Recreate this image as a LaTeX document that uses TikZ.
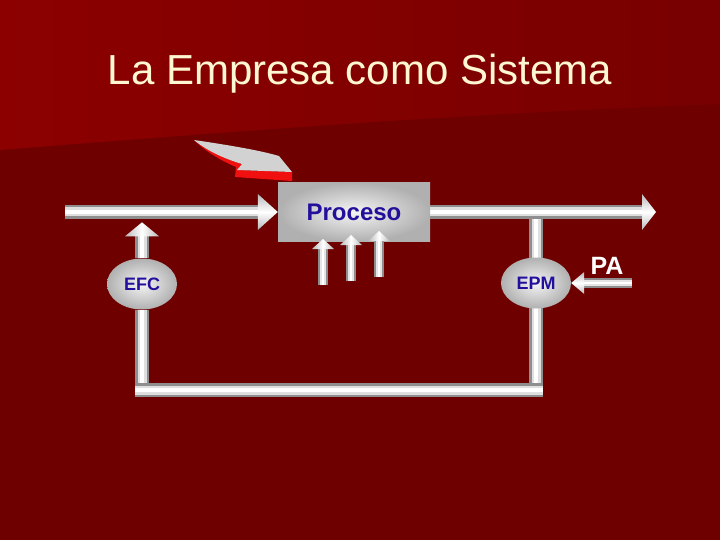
\documentclass[tikz,border=0pt]{standalone}
\usepackage{fontspec}
\setmainfont{Liberation Sans}
\usetikzlibrary{positioning,shapes.geometric,backgrounds}
\definecolor{bgdark}{HTML}{6F0000}
\definecolor{bglight}{HTML}{8C0000}
\definecolor{bgmid}{HTML}{780000}
\definecolor{titlecol}{HTML}{FFF6D2}
\definecolor{labelblue}{HTML}{22109C}
\definecolor{pipeedge}{HTML}{8E8E8E}
\definecolor{arrowred}{HTML}{F01010}

\begin{document}
\begin{tikzpicture}[x=1pt,y=-1pt,
    pipe/.style={line width=14pt,draw=pipeedge,line join=miter,postaction={draw=gray!25,line width=9pt},postaction={draw=white,line width=4pt}},
    thinpipe/.style={line width=10pt,draw=pipeedge,postaction={draw=gray!20,line width=6pt},postaction={draw=white,line width=2.5pt}},
    head/.style={shading=axis,top color=gray!55,bottom color=gray!55,middle color=white},
    vhead/.style={shading=axis,left color=gray!55,right color=gray!55,middle color=white},
    procbox/.style={rectangle,minimum width=152pt,minimum height=59pt,inner color=gray!8,outer color=gray!62,font=\bfseries\fontsize{24}{28}\selectfont,text=labelblue},
    gauge/.style={ellipse,minimum width=70pt,minimum height=51pt,inner sep=0pt,inner color=gray!8,outer color=gray!62,font=\bfseries\fontsize{18}{21}\selectfont,text=labelblue},
    title/.style={font=\fontsize{42}{48}\selectfont,text=titlecol}]
    \useasboundingbox (0,0) rectangle (720,540);
    %
    \node[title](title) at (360,74){La Empresa como Sistema};
    \node[procbox](proc) at (354,212){Proceso};
    \node[gauge](efc) at (142,284){EFC};
    \node[gauge](epm) at (536,283){EPM};
    \node[font=\bfseries\fontsize{25}{28}\selectfont,text=white](pa) at (607,266){PA};
    %
    \coordinate(in) at (65,212);
    \coordinate(out) at (642,212);
    \coordinate(loop) at (0,390);
    \coordinate(pasrc) at (632,283);
    %
    \begin{scope}[on background layer]
        \fill[bgdark] (0,0) rectangle (720,540);
        \shade[left color=bglight,right color=bgmid] (0,0) -- (720,0) -- (720,104) .. controls (450,114) and (200,134) .. (0,150) -- cycle;
        %
        \draw[pipe] (efc.south) -- (efc.south |- loop);
        \draw[pipe] (epm.north |- out) -- (epm.south |- loop);
        \draw[pipe] ([xshift=-7pt]efc.south |- loop) -- ([xshift=7pt]epm.south |- loop);
        \draw[pipe] (efc.north) -- ++(0,-22);
        \shade[vhead] ([xshift=-17pt,yshift=22pt]efc.north) -- ([yshift=36pt]efc.north) -- ([xshift=17pt,yshift=22pt]efc.north) -- cycle;
        %
        \draw[pipe] (in) -- ([xshift=-16pt]proc.west);
        \shade[head] ([shift={(-20,-18)}]proc.west) -- (proc.west) -- ([shift={(-20,18)}]proc.west) -- cycle;
        \draw[pipe] (proc.east) -- (out);
        \shade[head] ([yshift=18pt]out) -- ([xshift=14pt]out) -- ([yshift=-18pt]out) -- cycle;
        %
        \draw[thinpipe] (pasrc) -- ([xshift=12pt]epm.east);
        \shade[head] ([xshift=13pt,yshift=11pt]epm.east) -- (epm.east) -- ([xshift=13pt,yshift=-11pt]epm.east) -- cycle;
        %
        \fill[arrowred] (194,140) .. controls (206,152) and (222,161) .. (236,167) -- (235,177) -- (292,181) -- (292,172) -- (237,170) -- (242,164) .. controls (222,158) and (206,150) .. cycle;
        \fill[gray!35] (194,140) .. controls (235,146) and (262,151) .. (279,156) -- (292,172) -- (237,170) -- (242,164) .. controls (222,158) and (206,150) .. cycle;
    \end{scope}
    %
    \foreach \x/\yb/\yt [count=\i] in {323/285/239,351/281/235,379/277/231}{
        \coordinate(src\i) at (\x,\yb);
        \coordinate(tip\i) at (\x,\yt);
        \draw[thinpipe] (src\i) -- ([yshift=-9pt]tip\i);
        \shade[vhead] ([shift={(-11,10)}]tip\i) -- (tip\i) -- ([shift={(11,10)}]tip\i) -- cycle;
    }
\end{tikzpicture}
\end{document}
